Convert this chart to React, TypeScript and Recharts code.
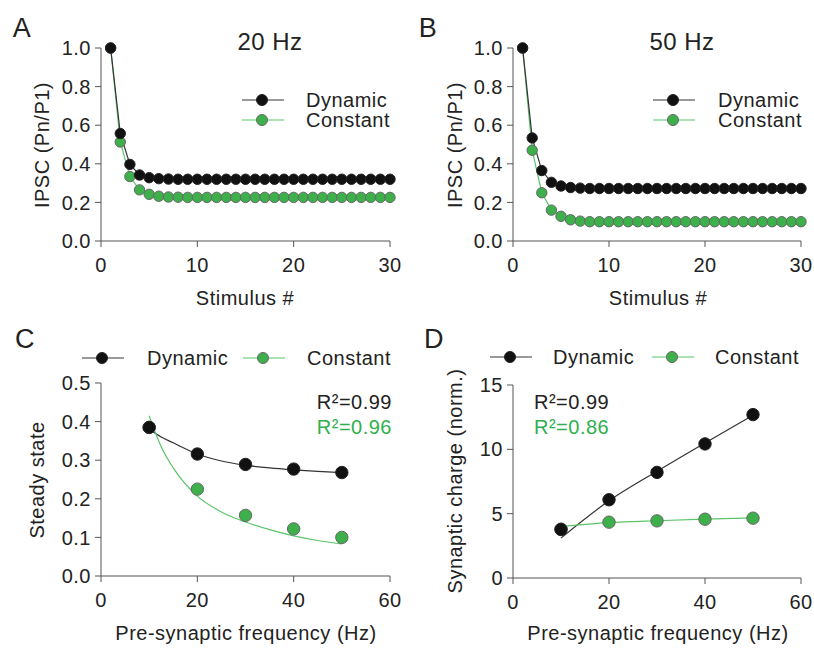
import React from "react";
import {
  LineChart,
  ComposedChart,
  Line,
  Scatter,
  XAxis,
  YAxis,
} from "recharts";

const stimulus = [
  1, 2, 3, 4, 5, 6, 7, 8, 9, 10, 11, 12, 13, 14, 15, 16, 17, 18, 19, 20, 21,
  22, 23, 24, 25, 26, 27, 28, 29, 30,
];
const dynamic20 = [
  1.0, 0.557, 0.397, 0.342, 0.328, 0.323, 0.321, 0.32, 0.32, 0.32, 0.32, 0.32,
  0.32, 0.32, 0.32, 0.32, 0.32, 0.32, 0.32, 0.32, 0.32, 0.32, 0.32, 0.32, 0.32,
  0.32, 0.32, 0.32, 0.32, 0.32,
];
const constant20 = [
  1.0, 0.513, 0.334, 0.265, 0.242, 0.232, 0.228, 0.227, 0.226, 0.226, 0.226,
  0.226, 0.226, 0.226, 0.226, 0.226, 0.226, 0.226, 0.226, 0.226, 0.226, 0.226,
  0.226, 0.226, 0.226, 0.226, 0.226, 0.226, 0.226, 0.226,
];
const dynamic50 = [
  1.0, 0.534, 0.365, 0.304, 0.285, 0.277, 0.274, 0.272, 0.272, 0.272, 0.272,
  0.272, 0.272, 0.272, 0.272, 0.272, 0.272, 0.272, 0.272, 0.272, 0.272, 0.272,
  0.272, 0.272, 0.272, 0.272, 0.272, 0.272, 0.272, 0.272,
];
const constant50 = [
  1.0, 0.47, 0.25, 0.16, 0.128, 0.11, 0.103, 0.1, 0.1, 0.1, 0.1, 0.1, 0.1, 0.1,
  0.1, 0.1, 0.1, 0.1, 0.1, 0.1, 0.1, 0.1, 0.1, 0.1, 0.1, 0.1, 0.1, 0.1, 0.1,
  0.1,
];

const freq = [10, 20, 30, 40, 50];
const steadyDynamic = [0.385, 0.316, 0.289, 0.277, 0.268];
const steadyConstant = [0.385, 0.225, 0.157, 0.122, 0.1];
const steadyFitX = [10, 12.5, 15, 20, 25, 30, 35, 40, 45, 50];
const steadyFitDynamic = [0.38, 0.36, 0.345, 0.316, 0.298, 0.287, 0.28, 0.275, 0.271, 0.268];
const steadyFitConstant = [0.415, 0.335, 0.28, 0.207, 0.166, 0.14, 0.12, 0.104, 0.092, 0.083];

const chargeDynamic = [3.77, 6.08, 8.21, 10.42, 12.7];
const chargeConstant = [3.8, 4.34, 4.44, 4.57, 4.65];
const chargeFitX = [10, 20, 30, 40, 50];
const chargeFitDynamic = [3.1, 6.0, 8.3, 10.5, 12.65];
const chargeFitConstant = [4.0, 4.3, 4.45, 4.57, 4.68];

const stimTicks = [0, 10, 20, 30];
const ipscTicks = [0, 0.2, 0.4, 0.6, 0.8, 1.0];
const freqTicks = [0, 20, 40, 60];
const steadyTicks = [0, 0.1, 0.2, 0.3, 0.4, 0.5];
const chargeTicks = [0, 5, 10, 15];

const FONT = "'Liberation Sans', Arial, sans-serif";
const AXIS = "#555";
const BLACK = "#111";
const GREEN = "#3db04c";
const GREEN_LINE = "#5cc46a";
const GREEN_TEXT = "#2fb04e";

const tickStyle = { fontSize: 20, fill: "#222", fontFamily: FONT, letterSpacing: 0.5 };

const rows20 = stimulus.map((s, i) => ({ s, dyn: dynamic20[i], con: constant20[i] }));
const rows50 = stimulus.map((s, i) => ({ s, dyn: dynamic50[i], con: constant50[i] }));
const steadyPts = freq.map((f, i) => ({ f, dyn: steadyDynamic[i], con: steadyConstant[i] }));
const steadyFit = steadyFitX.map((f, i) => ({ f, dyn: steadyFitDynamic[i], con: steadyFitConstant[i] }));
const chargePts = freq.map((f, i) => ({ f, dyn: chargeDynamic[i], con: chargeConstant[i] }));
const chargeFit = chargeFitX.map((f, i) => ({ f, dyn: chargeFitDynamic[i], con: chargeFitConstant[i] }));

const Txt = ({ x, y, size = 20, color = "#222", rotate = false, anchor = "center", children }: any) => {
  const tx = anchor === "center" ? "-50%" : anchor === "end" ? "-100%" : "0";
  return (
    <div
      style={{
        position: "absolute",
        left: x,
        top: y,
        transform: `translate(${tx}, -50%)${rotate ? " rotate(-90deg)" : ""}`,
        transformOrigin: rotate ? "center" : undefined,
        fontFamily: FONT,
        fontSize: size,
        letterSpacing: 0.5,
        color,
        whiteSpace: "nowrap",
        lineHeight: 1,
      }}
    >
      {children}
    </div>
  );
};

const LegendItem = ({ x, y, label, green, textX }: any) => (
  <>
    <svg style={{ position: "absolute", left: x, top: y - 8 }} width={44} height={16}>
      <line x1={1} y1={8} x2={43} y2={8} stroke={green ? "#8fd89a" : "#777"} strokeWidth={1.5} />
      <circle cx={21} cy={8} r={5.5} fill={green ? GREEN : BLACK} stroke={green ? "#666" : "#222"} strokeWidth={1} />
    </svg>
    <Txt x={textX} y={y} anchor="start">{label}</Txt>
  </>
);

const dot = (fill: string, stroke: string, r: number) => (p: any) => (
  <circle key={`${p.cx}-${p.cy}`} cx={p.cx} cy={p.cy} r={r} fill={fill} stroke={stroke} strokeWidth={1} />
);

const TrainPanel = ({ rows, left, yAxisWidth, right }: any) => (
  <div style={{ position: "absolute", left, top: 0 }}>
    <LineChart
      width={407}
      height={300}
      data={rows}
      margin={{ top: 48, right, bottom: 29, left: 0 }}
    >
      <XAxis
        dataKey="s"
        type="number"
        domain={[0, 30]}
        ticks={stimTicks}
        stroke={AXIS}
        tickSize={6}
        tickMargin={11}
        height={30}
        tick={tickStyle}
      />
      <YAxis
        type="number"
        domain={[0, 1]}
        ticks={ipscTicks}
        tickFormatter={(v: number) => v.toFixed(1)}
        stroke={AXIS}
        tickSize={6}
        tickMargin={4}
        width={yAxisWidth}
        tick={tickStyle}
      />
      <Line
        dataKey="con"
        stroke={GREEN_LINE}
        strokeWidth={1.2}
        dot={dot(GREEN, "#666", 5.2)}
        isAnimationActive={false}
      />
      <Line
        dataKey="dyn"
        stroke="#333"
        strokeWidth={1.2}
        dot={dot(BLACK, "#222", 5.2)}
        isAnimationActive={false}
      />
    </LineChart>
  </div>
);

const FreqPanel = ({ pts, fit, left, top, yAxisWidth, right, marginTop, domain, ticks, fmt }: any) => (
  <div style={{ position: "absolute", left, top }}>
    <ComposedChart
      width={407}
      height={320}
      margin={{ top: marginTop, right, bottom: 64 - 30 - (marginTop - 63), left: 0 }}
    >
      <XAxis
        dataKey="f"
        type="number"
        domain={[0, 60]}
        ticks={freqTicks}
        stroke={AXIS}
        tickSize={6}
        tickMargin={11}
        height={30}
        tick={tickStyle}
        allowDuplicatedCategory={false}
      />
      <YAxis
        type="number"
        domain={domain}
        ticks={ticks}
        tickFormatter={fmt}
        stroke={AXIS}
        tickSize={6}
        tickMargin={4}
        width={yAxisWidth}
        tick={tickStyle}
      />
      <Line data={fit} dataKey="dyn" type="monotone" stroke="#333" strokeWidth={1.2} dot={false} isAnimationActive={false} />
      <Line data={fit} dataKey="con" type="monotone" stroke={GREEN_LINE} strokeWidth={1.2} dot={false} isAnimationActive={false} />
      <Scatter data={pts} dataKey="con" shape={dot(GREEN, "#666", 6.2)} isAnimationActive={false} />
      <Scatter data={pts} dataKey="dyn" shape={dot(BLACK, "#222", 6.2)} isAnimationActive={false} />
    </ComposedChart>
  </div>
);

export default function App() {
  return (
    <div
      style={{
        position: "absolute",
        left: 0,
        top: 0,
        width: 814,
        height: 649,
        background: "#fff",
        overflow: "hidden",
      }}
    >
      <TrainPanel rows={rows20} left={0} yAxisWidth={101} right={17} />
      <TrainPanel rows={rows50} left={407} yAxisWidth={106} right={13} />
      <FreqPanel
        pts={steadyPts}
        fit={steadyFit}
        left={0}
        top={320}
        yAxisWidth={101}
        right={17}
        marginTop={63}
        domain={[0, 0.5]}
        ticks={steadyTicks}
        fmt={(v: number) => v.toFixed(1)}
      />
      <FreqPanel
        pts={chargePts}
        fit={chargeFit}
        left={407}
        top={320}
        yAxisWidth={106}
        right={13}
        marginTop={65}
        domain={[0, 15]}
        ticks={chargeTicks}
        fmt={(v: number) => String(v)}
      />

      <Txt x={22} y={28} size={27}>A</Txt>
      <Txt x={428} y={28} size={27}>B</Txt>
      <Txt x={25} y={339} size={27}>C</Txt>
      <Txt x={434} y={339} size={27}>D</Txt>

      <Txt x={270} y={42} size={24}>20 Hz</Txt>
      <Txt x={682} y={42} size={24}>50 Hz</Txt>

      <Txt x={42} y={145} rotate>IPSC (Pn/P1)</Txt>
      <Txt x={455} y={145} rotate>IPSC (Pn/P1)</Txt>
      <Txt x={37} y={480} rotate>Steady state</Txt>
      <Txt x={455} y={481} rotate>Synaptic charge (norm.)</Txt>

      <Txt x={245} y={298}>Stimulus #</Txt>
      <Txt x={658} y={298}>Stimulus #</Txt>
      <Txt x={246} y={633}>Pre-synaptic frequency (Hz)</Txt>
      <Txt x={658} y={633}>Pre-synaptic frequency (Hz)</Txt>

      <LegendItem x={241} y={100} label="Dynamic" textX={306} />
      <LegendItem x={241} y={120} label="Constant" green textX={306} />
      <LegendItem x={652} y={100} label="Dynamic" textX={718} />
      <LegendItem x={652} y={120} label="Constant" green textX={718} />

      <LegendItem x={81} y={358} label="Dynamic" textX={147} />
      <LegendItem x={242} y={358} label="Constant" green textX={307} />
      <LegendItem x={489} y={357} label="Dynamic" textX={553} />
      <LegendItem x={651} y={357} label="Constant" green textX={715} />

      <Txt x={392} y={402} anchor="end">R²=0.99</Txt>
      <Txt x={392} y={427} anchor="end" color={GREEN_TEXT}>R²=0.96</Txt>
      <Txt x={534} y={402} anchor="start">R²=0.99</Txt>
      <Txt x={534} y={427} anchor="start" color={GREEN_TEXT}>R²=0.86</Txt>
    </div>
  );
}
